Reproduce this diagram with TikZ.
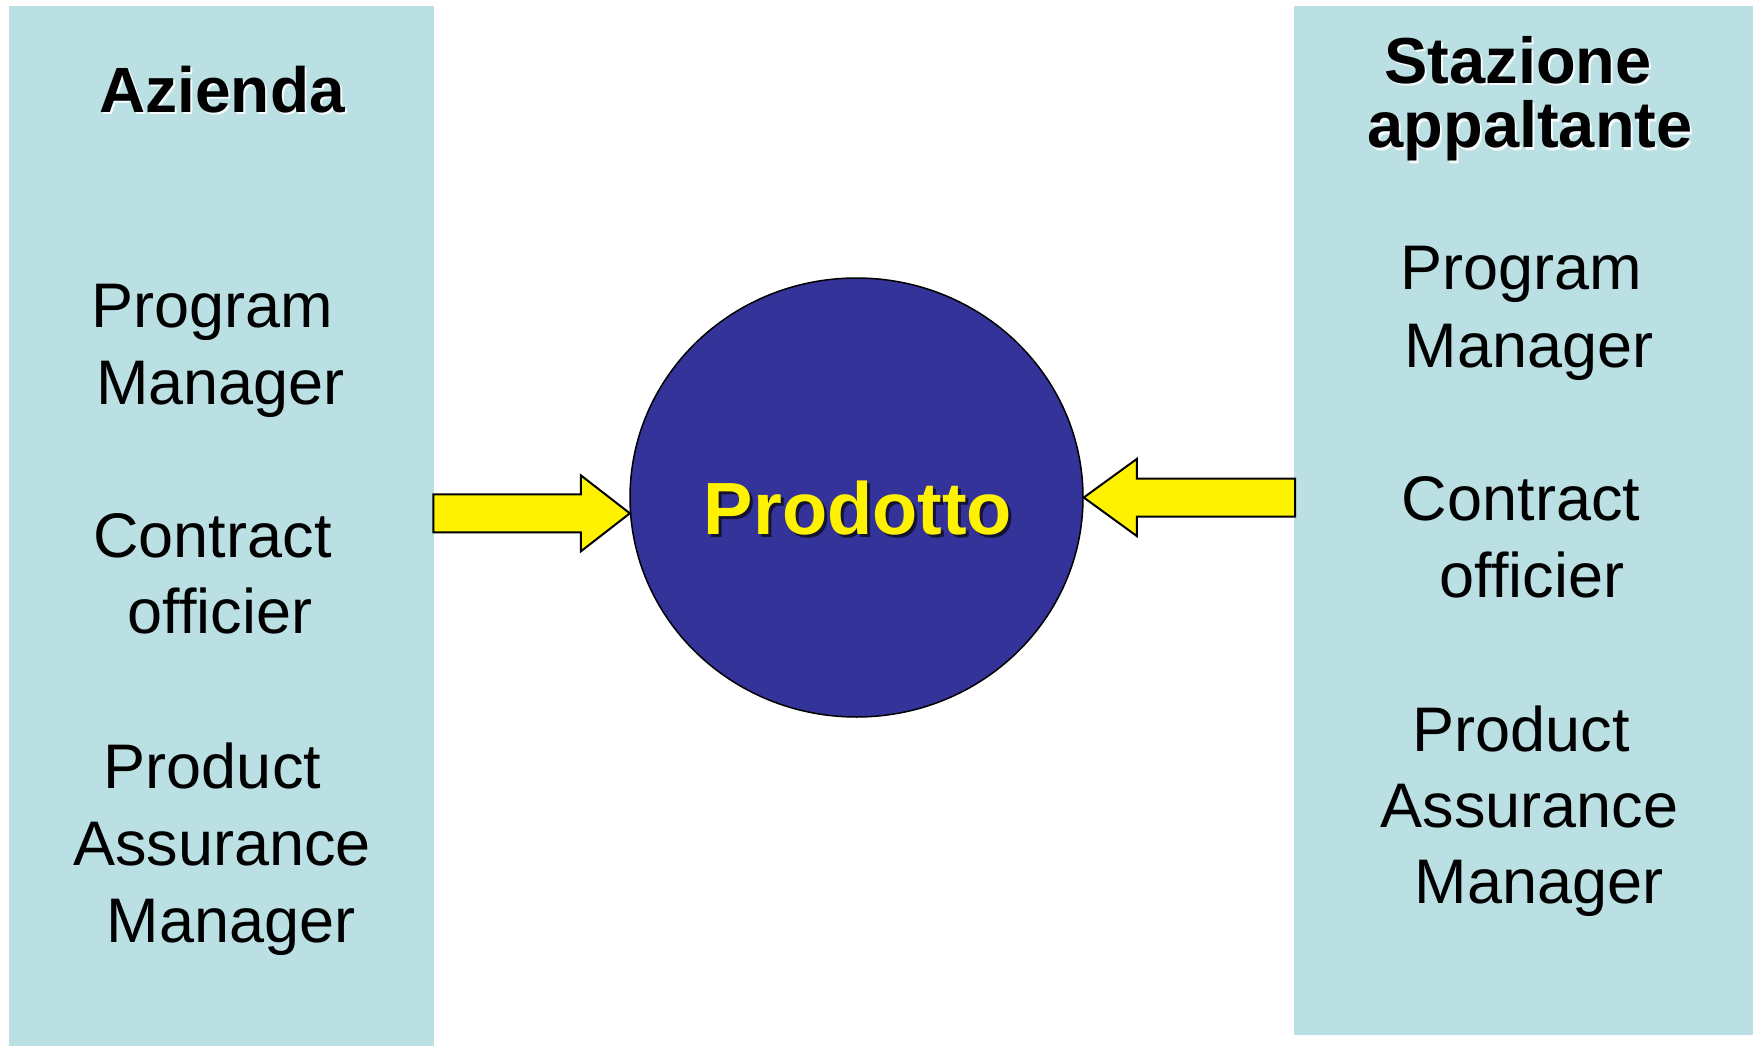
\documentclass[tikz,border=0pt]{standalone}
\usepackage{fontspec}
\setmainfont{Liberation Sans}
\usetikzlibrary{shapes.geometric,calc}
\definecolor{panelblue}{RGB}{187,224,227}
\definecolor{prodblue}{RGB}{51,51,153}
\definecolor{shadenavy}{RGB}{20,20,50}
\begin{document}
\begin{tikzpicture}[x=1pt,y=-1pt,
  panel/.style={draw=none,fill=panelblue,inner sep=0pt,anchor=north west},
  role/.style={anchor=base,inner sep=0pt,font=\fontsize{63}{75}\selectfont},
  head/.style={anchor=base,inner sep=0pt,font=\fontsize{64}{66}\selectfont\bfseries},
  headshade/.style={head,text=white!85!panelblue},
  bigarrow/.style={draw=black,line width=2pt,fill=yellow,line join=miter}]
\useasboundingbox (0,0) rectangle (1753,1046);
\fill[white] (0,0) rectangle (1753,1046);

% side panels
\node[panel,minimum width=425pt,minimum height=1040pt] (az) at (9,6) {};
\node[panel,minimum width=459pt,minimum height=1029pt] (sa) at (1294,6) {};

% central product
\node[ellipse,draw=black,line width=1.5pt,fill=prodblue,inner sep=0pt,
      minimum width=453pt,minimum height=439pt] (prod) at (856.5,497.5) {};
\node[anchor=base,inner sep=0pt,text=shadenavy,
      font=\fontsize{74}{80}\selectfont\bfseries] (prodsh) at (861,537) {Prodotto};
\node[anchor=base,inner sep=0pt,text=yellow,
      font=\fontsize{74}{80}\selectfont\bfseries] (prodtxt) at (858,534) {Prodotto};

% arrows from the panels into the product
\coordinate (lt) at (prod.184);
\coordinate (ls) at (az.east |- lt);
\draw[bigarrow] ($(ls)+(-1,-19)$) -- ($(lt)+(-49,-19)$) -- ($(lt)+(-49,-38)$) -- (lt)
  -- ($(lt)+(-49,38)$) -- ($(lt)+(-49,19)$) -- ($(ls)+(-1,19)$) -- cycle;
\coordinate (rt) at (prod.east);
\coordinate (rs) at (sa.west |- rt);
\draw[bigarrow] ($(rs)+(1,-19)$) -- ($(rt)+(53,-19)$) -- ($(rt)+(53,-38.5)$) -- (rt)
  -- ($(rt)+(53,38.5)$) -- ($(rt)+(53,19)$) -- ($(rs)+(1,19)$) -- cycle;

% left column: Azienda
\node[headshade] (azhsh) at (224,115) {Azienda};
\node[head] (azh) at (222,113) {Azienda};
\node[role] (azpm1) at (212.5,327) {Program};
\node[role] (azpm2) at (220.5,404) {Manager};
\node[role] (azco1) at (212.5,557) {Contract};
\node[role] (azco2) at (220,633) {officier};
\node[role] (azpa1) at (212.5,788) {Product};
\node[role] (azpa2) at (222,865) {Assurance};
\node[role] (azpa3) at (231,942) {Manager};

% right column: Stazione appaltante
\node[headshade,font=\fontsize{65}{66}\selectfont\bfseries] (sah1sh) at (1520,86) {Stazione};
\node[head,font=\fontsize{65}{66}\selectfont\bfseries] (sah1) at (1518,84) {Stazione};
\node[headshade,font=\fontsize{65}{66}\selectfont\bfseries] (sah2sh) at (1532,150) {appaltante};
\node[head,font=\fontsize{65}{66}\selectfont\bfseries] (sah2) at (1530,148) {appaltante};
\node[role] (sapm1) at (1521,289) {Program};
\node[role] (sapm2) at (1529,367) {Manager};
\node[role] (saco1) at (1521,520) {Contract};
\node[role] (saco2) at (1532,597) {officier};
\node[role] (sapa1) at (1521,751) {Product};
\node[role] (sapa2) at (1529.5,827) {Assurance};
\node[role] (sapa3) at (1539,903) {Manager};
\end{tikzpicture}
\end{document}
